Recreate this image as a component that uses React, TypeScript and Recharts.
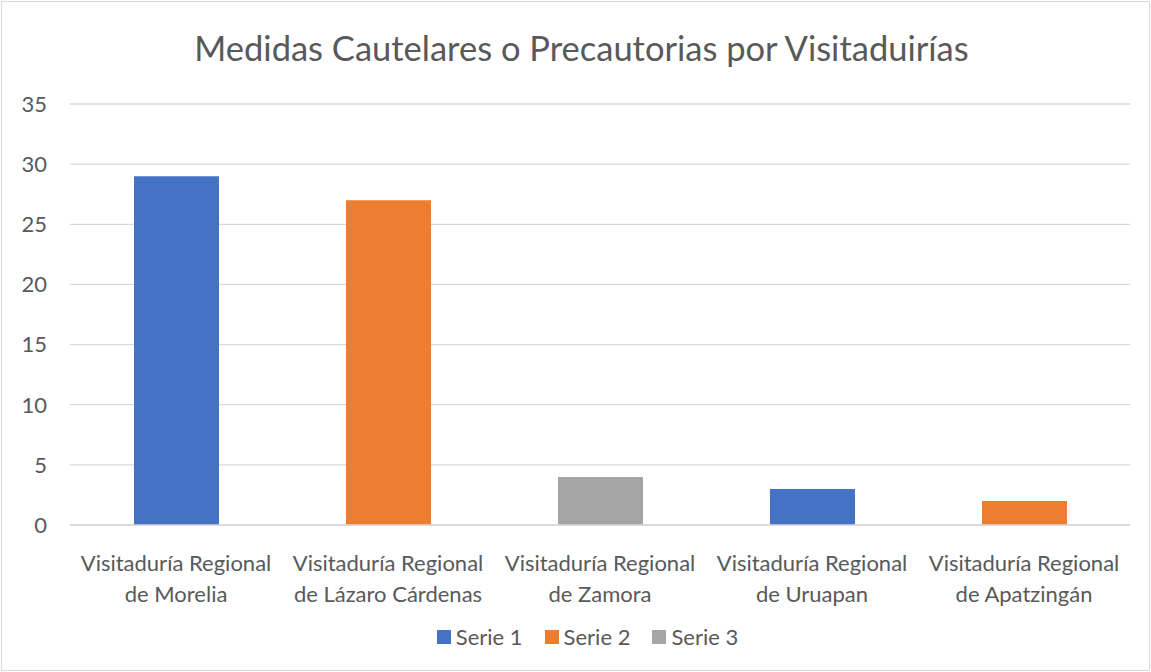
import { BarChart, Bar, XAxis, YAxis, CartesianGrid } from 'recharts'

const categories = [
  'Visitaduría Regional|de Morelia',
  'Visitaduría Regional|de Lázaro Cárdenas',
  'Visitaduría Regional|de Zamora',
  'Visitaduría Regional|de Uruapan',
  'Visitaduría Regional|de Apatzingán',
]
const serie1 = [29, null, null, 3, null]
const serie2 = [null, 27, null, null, 2]
const serie3 = [null, null, 4, null, null]
const yTicks = [0, 5, 10, 15, 20, 25, 30, 35]

const seriesNames = ['Serie 1', 'Serie 2', 'Serie 3']
const colors = ['#4472c4', '#ed7d31', '#a5a5a5']

const data = categories.map((name, i) => ({
  name,
  s1: serie1[i],
  s2: serie2[i],
  s3: serie3[i],
}))

const font = 'Lato, "Open Sans", sans-serif'
const textColor = '#595959'

function CategoryTick(props: any) {
  const { x, y, payload } = props
  const lines = String(payload.value).split('|')
  return (
    <text x={x} y={y} textAnchor="middle" fill={textColor} fontSize={22} fontFamily={font}>
      {lines.map((l, i) => (
        <tspan key={i} x={x} dy={i === 0 ? 38 : 31}>
          {l}
        </tspan>
      ))}
    </text>
  )
}

export default function App() {
  return (
    <div style={{ position: 'absolute', left: 0, top: 0, width: 1151, height: 672, background: '#fff' }}>
      <div
        style={{
          position: 'absolute', left: 1, top: 1, width: 1147, height: 668,
          border: '1px solid #d9d9d9',
        }}
      />
      <div
        style={{
          position: 'absolute', left: 6, top: 26, width: 1151, textAlign: 'center',
          fontFamily: font, fontSize: 34.5, color: textColor, lineHeight: '44px',
        }}
      >
        Medidas Cautelares o Precautorias por Visitaduirías
      </div>
      <div
        style={{
          position: 'absolute', left: 12, top: 624, width: 1151, height: 26,
          display: 'flex', justifyContent: 'center', gap: 22,
          fontFamily: font, fontSize: 22, color: textColor, lineHeight: '26px',
        }}
      >
        {seriesNames.map((s, i) => (
          <div key={s} style={{ display: 'flex', alignItems: 'center' }}>
            <span style={{ width: 14, height: 14, background: colors[i], display: 'inline-block', marginRight: 5 }} />
            {s}
          </div>
        ))}
      </div>
      <BarChart
        style={{ position: 'absolute', left: 0, top: 0 }}
        width={1151}
        height={672}
        data={data}
        margin={{ top: 104, right: 21, bottom: 0, left: 0 }}
        barSize={85}
      >
        <CartesianGrid vertical={false} stroke="#d9d9d9" strokeWidth={1.3} />
        <XAxis
          dataKey="name"
          tick={<CategoryTick />}
          tickLine={false}
          axisLine={{ stroke: '#d9d9d9', strokeWidth: 1.3 }}
          interval={0}
          height={147}
        />
        <YAxis
          width={70}
          domain={[0, 35]}
          ticks={yTicks}
          tickLine={false}
          axisLine={false}
          tickSize={0}
          tickMargin={23}
          tick={{ fill: textColor, fontSize: 22, fontFamily: font }}
        />
        <Bar dataKey="s1" name="Serie 1" stackId="a" fill={colors[0]} isAnimationActive={false} />
        <Bar dataKey="s2" name="Serie 2" stackId="a" fill={colors[1]} isAnimationActive={false} />
        <Bar dataKey="s3" name="Serie 3" stackId="a" fill={colors[2]} isAnimationActive={false} />
      </BarChart>
    </div>
  )
}
